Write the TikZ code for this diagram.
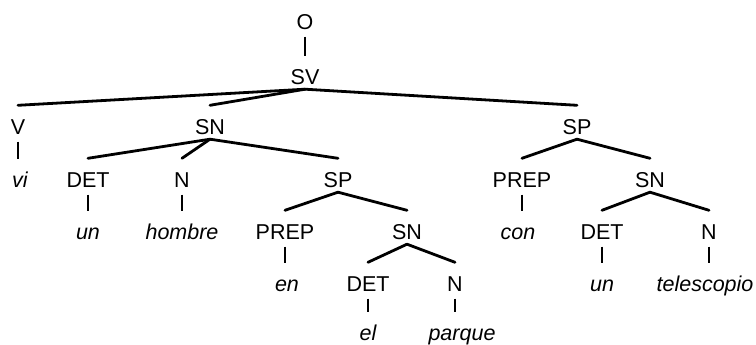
\documentclass[tikz,border=0pt]{standalone}
\usepackage{fontspec}
\setmainfont{Liberation Sans}
\usetikzlibrary{calc}

\tikzset{
  cat/.style={inner sep=0pt, text height=15pt, text depth=0pt,
    font=\fontsize{21.5}{25}\selectfont},
  word/.style={cat, font=\fontsize{21.5}{25}\selectfont\itshape},
  branch/.style={line width=2.8pt, line cap=round},
  stem/.style={line width=1.8pt},
}

\begin{document}
\begin{tikzpicture}[x=1pt, y=-1pt]

% Canvas (pixel grid, y grows downwards)
\fill[white] (0,0) rectangle (756,345);
\useasboundingbox (0,0) rectangle (756,345);

% --- Top of the tree ---
\node[cat] (o)  at (305,22) {O};
\node[cat] (sv) at (305,77) {SV};

% --- Level 1 ---
\node[cat] (v)   at (18,127)  {V};
\node[cat] (sna) at (210,127) {SN};
\node[cat] (spb) at (577,127) {SP};

% --- Level 2 ---
\node[word] (vi)    at (20,180)  {vi};
\node[cat]  (deta)  at (88,180)  {DET};
\node[cat]  (na)    at (182,180) {N};
\node[cat]  (spa)   at (338,180) {SP};
\node[cat]  (prepb) at (522,180) {PREP};
\node[cat]  (snc)   at (650,180) {SN};

% --- Level 3 ---
\node[word] (una)    at (88,232)  {un};
\node[word] (hombre) at (182,232) {hombre};
\node[cat]  (prepa)  at (285,232) {PREP};
\node[cat]  (snb)    at (407,232) {SN};
\node[word] (con)    at (518,232) {con};
\node[cat]  (detc)   at (602,232) {DET};
\node[cat]  (nc)     at (709,232) {N};

% --- Level 4 ---
\node[word] (en)         at (287,284) {en};
\node[cat]  (detb)       at (368,284) {DET};
\node[cat]  (nb)         at (455,284) {N};
\node[word] (unb)        at (602,284) {un};
\node[word] (telescopio) at (705,284) {telescopio};

% --- Level 5 ---
\node[word] (el)     at (368,333) {el};
\node[word] (parque) at (462,333) {parque};

% Branching edges: from just under the mother to just over the daughter
\foreach \p/\c in {sv/v, sv/sna, sv/spb,
                   sna/deta, sna/na, sna/spa,
                   spa/prepa, spa/snb,
                   snb/detb, snb/nb,
                   spb/prepb, spb/snc,
                   snc/detc, snc/nc} {
  \draw[branch] ($(\p.south)+(0,4.5)$) -- ($(\c.north)+(0,-14)$);
}

% Unary edges (short vertical strokes)
\foreach \p/\c in {o/sv, v/vi, deta/una, na/hombre, prepa/en,
                   detb/el, nb/parque, prepb/con,
                   detc/unb, nc/telescopio} {
  \draw[stem] ($(\p.south)+(0,7)$) -- ($(\p.south |- \c.north)+(0,-13)$);
}

\end{tikzpicture}
\end{document}
